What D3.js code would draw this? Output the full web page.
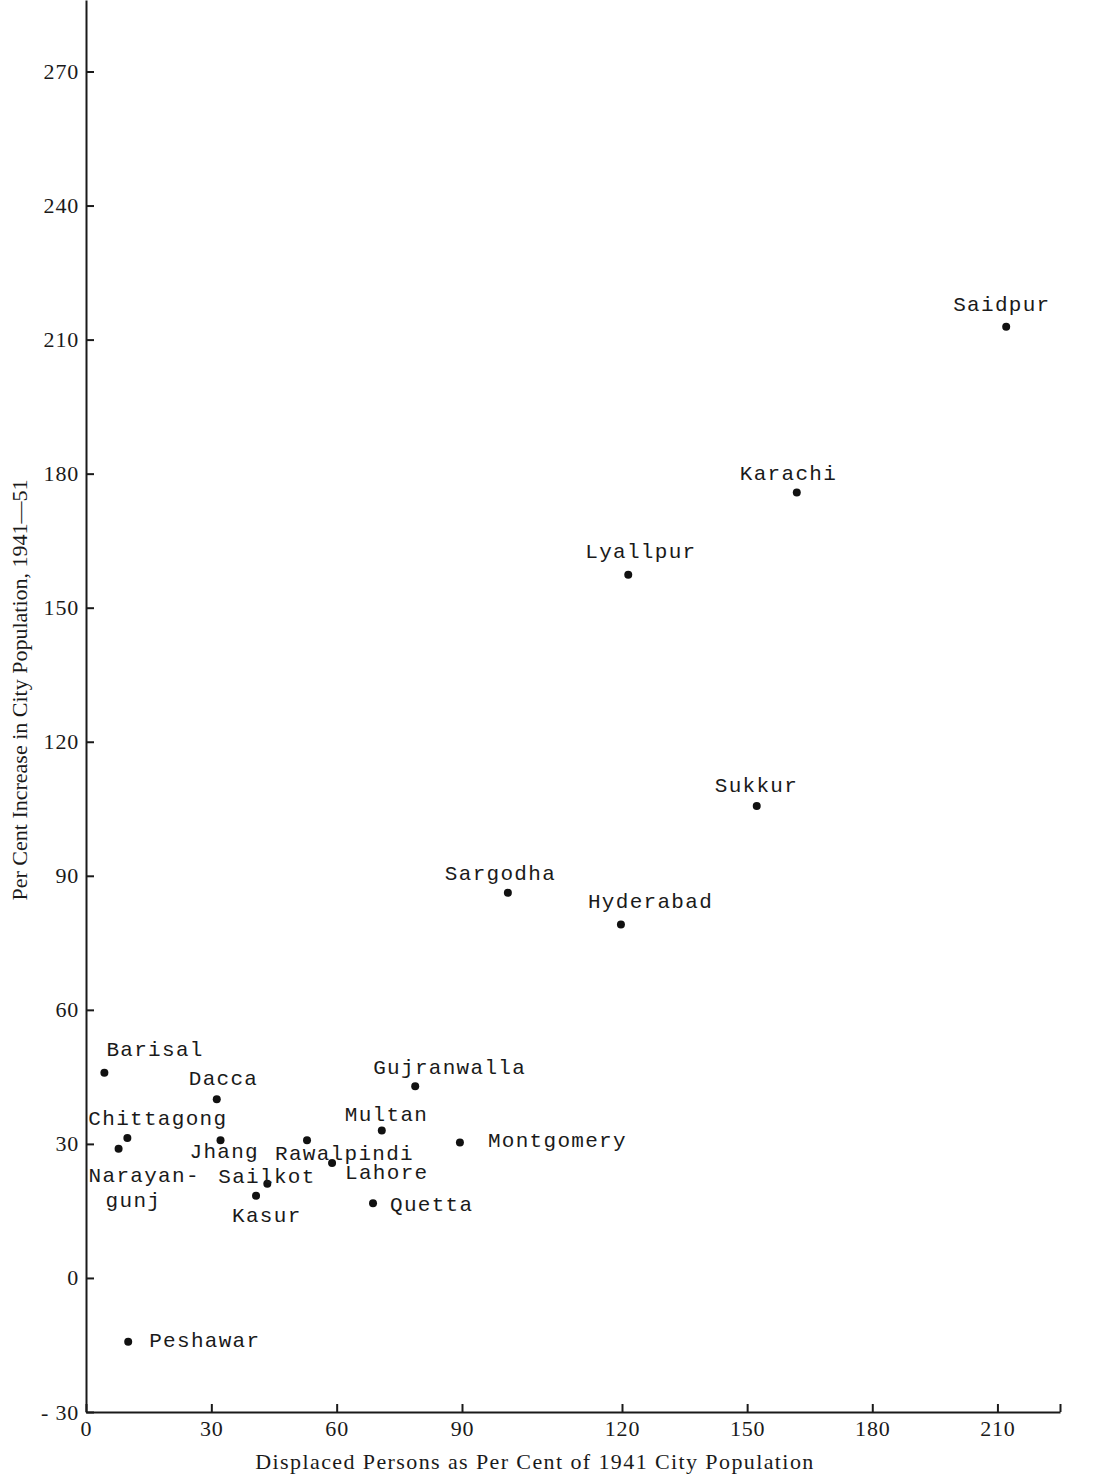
<!DOCTYPE html>
<html>
<head>
<meta charset="utf-8">
<script src="https://cdn.jsdelivr.net/npm/d3@7"></script>
<style>
  html, body { margin: 0; padding: 0; background: #fff; }
  svg { display: block; }
  .axis text { font-family: "Liberation Serif", "DejaVu Serif", serif; font-size: 22px; letter-spacing: 0.8px; fill: #1a1a1a; }
  .axis path, .axis line { stroke: #1a1a1a; stroke-width: 2px; }
  .title { font-family: "Liberation Serif", "DejaVu Serif", serif; font-size: 22px; fill: #1a1a1a; }
  .city { font-family: "Liberation Mono", "DejaVu Sans Mono", monospace; font-size: 21px; letter-spacing: 1.3px; fill: #1a1a1a; }
</style>
</head>
<body>
<svg width="1104" height="1478"></svg>
<script>
// cities, displaced persons % of 1941 pop (x) and % increase 1941-51 (y)
var cities = ['Saidpur', 'Karachi', 'Lyallpur', 'Sukkur', 'Sargodha', 'Hyderabad',
    'Barisal', 'Dacca', 'Gujranwalla', 'Chittagong', 'Multan', 'Jhang', 'Rawalpindi',
    'Montgomery', 'Narayangunj', 'Lahore', 'Sailkot', 'Kasur', 'Quetta', 'Peshawar'];
var displaced = [212.1, 161.9, 121.5, 152.3, 98.6, 119.8,
    4.4, 31.3, 78.8, 9.9, 70.8, 32.2, 52.9,
    89.5, 7.8, 58.9, 43.4, 40.7, 68.7, 10.1];
var increase = [212.9, 175.8, 157.4, 105.6, 86.2, 79.1,
    45.9, 40.0, 42.9, 31.3, 33.0, 30.8, 30.8,
    30.3, 28.9, 25.7, 21.1, 18.4, 16.7, -14.3];

var xTicks = [0, 30, 60, 90, 120, 150, 180, 210, 225];
var yTicks = [-30, 0, 30, 60, 90, 120, 150, 180, 210, 240, 270];
var xTitle = 'Displaced Persons as Per Cent of 1941 City Population';
var yTitle = 'Per Cent Increase in City Population, 1941\u201451';

// label offsets from the dot (text start / baseline)
var labelOffset = {
    'Saidpur': [-53, -16], 'Karachi': [-57, -12], 'Lyallpur': [-43, -17],
    'Sukkur': [-42, -14], 'Sargodha': [-63, -13], 'Hyderabad': [-33, -17],
    'Barisal': [2, -17], 'Dacca': [-28, -14], 'Gujranwalla': [-42, -12],
    'Chittagong': [-39, -13], 'Multan': [-37, -9], 'Jhang': [-31, 18],
    'Rawalpindi': [-32, 20], 'Montgomery': [28, 4], 'Lahore': [13, 16],
    'Sailkot': [-49, -1], 'Kasur': [-24, 26], 'Quetta': [17, 8],
    'Peshawar': [21, 5]
};

var svg = d3.select('svg');

// the printed x axis is uneven between 90 and 120, so the scale is piecewise
var x = d3.scaleLinear()
    .domain([0, 90, 120, 225])
    .range([86, 462, 622, 1060]);

var y = d3.scaleLinear()
    .domain([-30, 286])
    .range([1412, 0]);

var xAxis = d3.axisBottom(x)
    .tickValues(xTicks)
    .tickSizeInner(-8)
    .tickSizeOuter(0)
    .tickPadding(8)
    .tickFormat(function(d) { return d === 225 ? '' : d; });

var yAxis = d3.axisLeft(y)
    .tickValues(yTicks)
    .tickSizeInner(-8)
    .tickSizeOuter(0)
    .tickPadding(7)
    .tickFormat(function(d) { return d < 0 ? '- ' + (-d) : d; });

svg.append('g')
    .attr('class', 'axis')
    .attr('transform', 'translate(0,' + y(-30) + ')')
    .call(xAxis);

svg.append('g')
    .attr('class', 'axis')
    .attr('transform', 'translate(' + x(0) + ',0)')
    .call(yAxis);

svg.append('text')
    .attr('class', 'title')
    .attr('x', 535)
    .attr('y', 1469)
    .attr('text-anchor', 'middle')
    .style('letter-spacing', '1.4px')
    .text(xTitle);

svg.append('text')
    .attr('class', 'title')
    .attr('transform', 'translate(27,690) rotate(-90)')
    .attr('text-anchor', 'middle')
    .text(yTitle);

var points = [];
for (var i = 0, l = cities.length; i < l; i++) {
    points.push({ name: cities[i], x: displaced[i], y: increase[i] });
}

svg.append('g')
    .selectAll('circle')
    .data(points)
    .enter()
    .append('circle')
    .attr('cx', function(d) { return x(d.x); })
    .attr('cy', function(d) { return y(d.y); })
    .attr('r', 4)
    .attr('fill', '#111');

var labels = svg.append('g');
points.forEach(function(d) {
    var px = x(d.x), py = y(d.y);
    if (d.name === 'Narayangunj') {
        labels.append('text').attr('class', 'city')
            .attr('x', px - 30).attr('y', py + 33).text('Narayan-');
        labels.append('text').attr('class', 'city')
            .attr('x', px - 13).attr('y', py + 58).text('gunj');
        return;
    }
    var off = labelOffset[d.name];
    labels.append('text').attr('class', 'city')
        .attr('x', px + off[0])
        .attr('y', py + off[1])
        .text(d.name);
});
</script>
</body>
</html>
